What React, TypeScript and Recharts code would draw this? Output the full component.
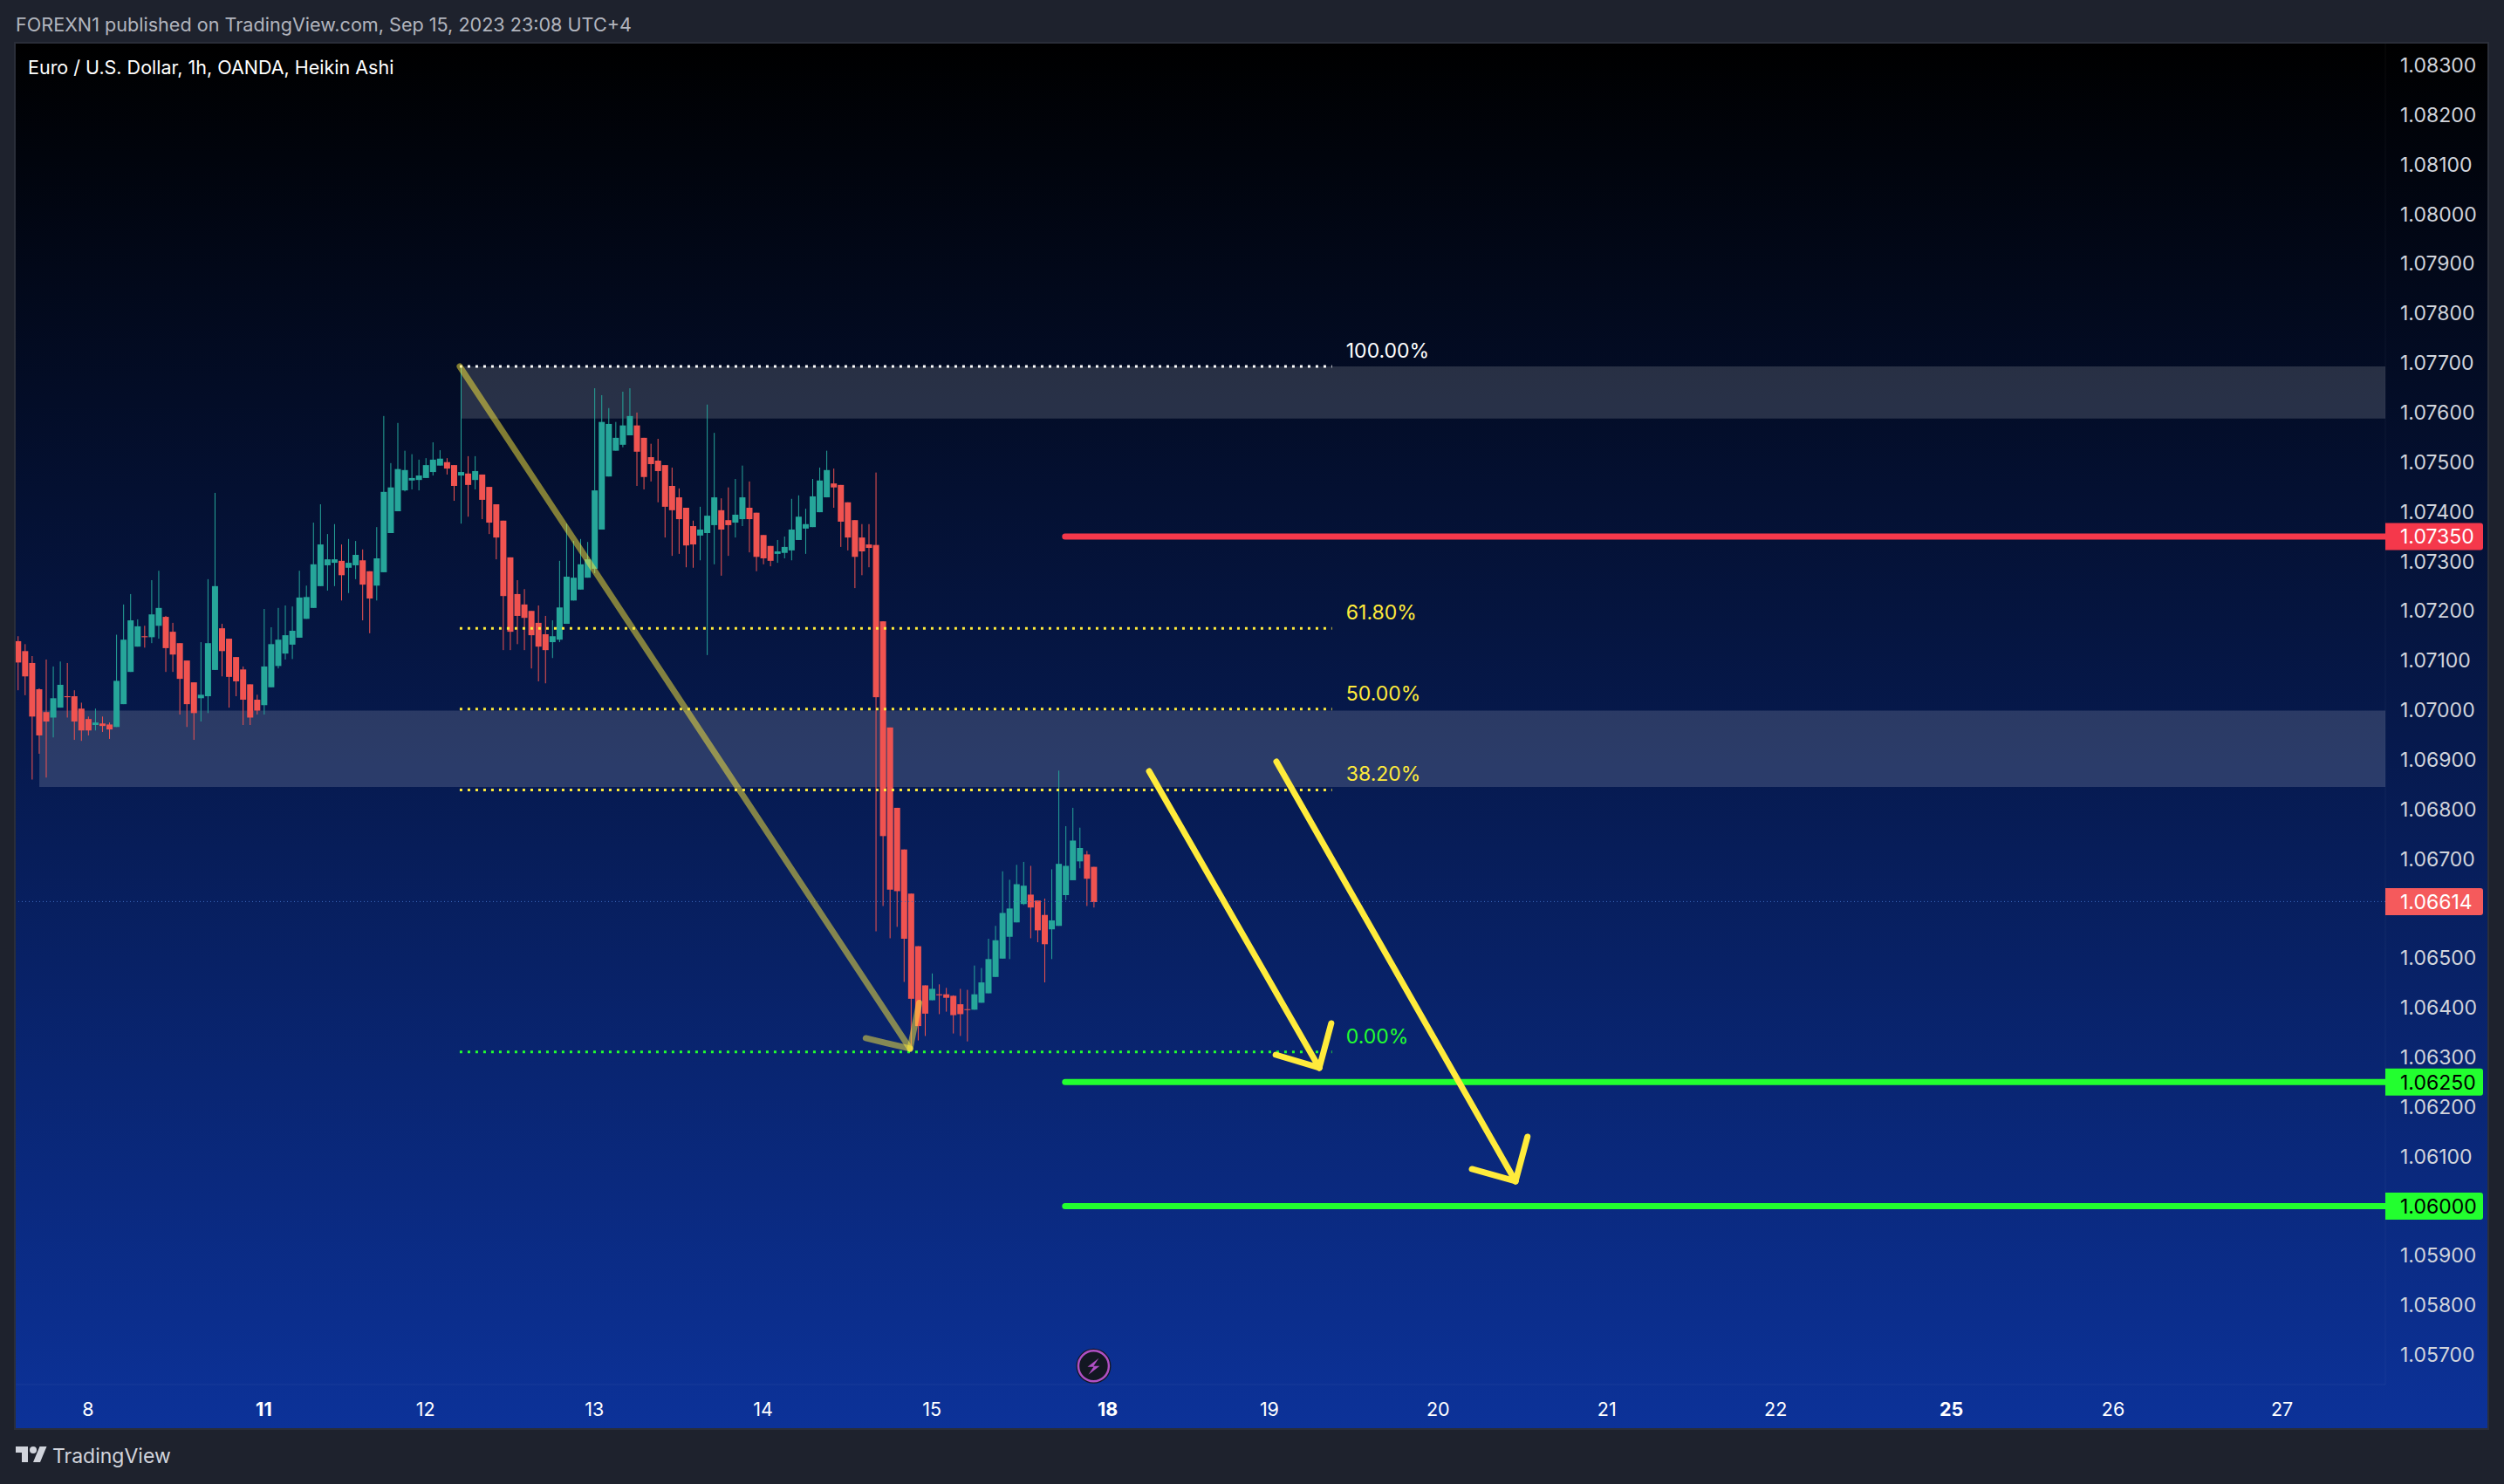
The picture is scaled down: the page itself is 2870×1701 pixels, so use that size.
import { Bar, ComposedChart, ReferenceArea, ReferenceDot, ReferenceLine, XAxis, YAxis } from "recharts";

const UI_FONT = "Inter, 'Noto Sans', sans-serif";
const GREEN = "#26a69a";
const RED = "#f05350";

// heikin ashi candles, 1h bars
const opens = [
  1.07139, 1.07119, 1.07095, 1.07042, 1.06996, 1.06985, 1.07005, 1.07028, 1.07028, 1.07003,
  1.06982, 1.0697, 1.06973, 1.06971, 1.06966, 1.07012, 1.07077, 1.07128, 1.07149, 1.07147,
  1.0717, 1.07188, 1.07158, 1.07135, 1.071, 1.07056, 1.07024, 1.07028, 1.07081, 1.07165,
  1.07144, 1.07107, 1.07082, 1.07052, 1.07021, 1.0701, 1.07046, 1.07089, 1.07114, 1.07132,
  1.07146, 1.07184, 1.07206, 1.0725, 1.07292, 1.07297, 1.07301, 1.07287, 1.07292, 1.07302,
  1.0728, 1.07251, 1.07278, 1.07357, 1.07401, 1.07443, 1.07463, 1.07464, 1.07468, 1.0748,
  1.07493, 1.075, 1.07494, 1.07473, 1.07477, 1.07464, 1.07475, 1.0745, 1.07415, 1.07382,
  1.07308, 1.07234, 1.07213, 1.072, 1.07176, 1.07153, 1.07137, 1.07142, 1.07174, 1.07221,
  1.07243, 1.07267, 1.07285, 1.07364, 1.07471, 1.07523, 1.07535, 1.07554, 1.07574, 1.07549,
  1.0751, 1.07503, 1.07494, 1.07452, 1.07429, 1.07408, 1.07371, 1.07352, 1.07357, 1.07373,
  1.07403, 1.07383, 1.07378, 1.07385, 1.07408, 1.07398, 1.07353, 1.07331, 1.07315, 1.07317,
  1.07322, 1.07343, 1.07366, 1.07369, 1.07399, 1.07429, 1.07457, 1.07454, 1.07419, 1.07383,
  1.07348, 1.07334, 1.07333, 1.07179, 1.06965, 1.06803, 1.06719, 1.0663, 1.06524, 1.06445,
  1.06415, 1.06427, 1.06427, 1.06424, 1.06407, 1.06397, 1.06396, 1.0641, 1.06429, 1.06462,
  1.06499, 1.06543, 1.06572, 1.06609, 1.06628, 1.06616, 1.06587, 1.06558, 1.06565, 1.06627,
  1.06657, 1.06695, 1.06709, 1.06684,
];
const highs = [
  1.07149, 1.07133, 1.07109, 1.07044, 1.07102, 1.07088, 1.07098, 1.07095, 1.0704, 1.07015,
  1.06987, 1.07003, 1.06987, 1.06975, 1.07152, 1.07213, 1.07234, 1.07183, 1.0717, 1.07262,
  1.07281, 1.0719, 1.07176, 1.07135, 1.071, 1.07056, 1.07137, 1.07264, 1.07438, 1.07174,
  1.07144, 1.07107, 1.07088, 1.07052, 1.07031, 1.07204, 1.07167, 1.07206, 1.07211, 1.07209,
  1.07281, 1.07251, 1.07378, 1.07415, 1.07355, 1.07375, 1.07334, 1.07345, 1.07341, 1.07324,
  1.0728, 1.07369, 1.07593, 1.07498, 1.07579, 1.07523, 1.07516, 1.07505, 1.07508, 1.0754,
  1.07524, 1.07508, 1.07494, 1.07693, 1.07512, 1.07512, 1.07475, 1.0745, 1.07415, 1.07382,
  1.07308, 1.07262, 1.07244, 1.072, 1.07211, 1.0719, 1.07181, 1.07301, 1.07376, 1.07341,
  1.07345, 1.07339, 1.07649, 1.07635, 1.07609, 1.07581, 1.07642, 1.07649, 1.076, 1.07549,
  1.07537, 1.07547, 1.07494, 1.07489, 1.07447, 1.07408, 1.07382, 1.0741, 1.07616, 1.07559,
  1.07427, 1.07449, 1.07466, 1.07493, 1.07461, 1.07398, 1.07353, 1.07331, 1.07343, 1.0735,
  1.07426, 1.07433, 1.07406, 1.07466, 1.07489, 1.07523, 1.07487, 1.07454, 1.07419, 1.07383,
  1.07375, 1.07375, 1.07479, 1.07179, 1.06965, 1.06803, 1.06719, 1.0663, 1.06524, 1.06445,
  1.06469, 1.06447, 1.0644, 1.06425, 1.06438, 1.06436, 1.06485, 1.0648, 1.06539, 1.06565,
  1.06675, 1.06658, 1.06688, 1.06694, 1.06686, 1.06616, 1.0662, 1.06679, 1.06878, 1.06766,
  1.06803, 1.06763, 1.06716, 1.06684,
];
const lows = [
  1.0704, 1.0703, 1.0686, 1.06912, 1.06864, 1.06945, 1.07005, 1.06985, 1.0694, 1.06938,
  1.06949, 1.06959, 1.06956, 1.06942, 1.06966, 1.07012, 1.07077, 1.07128, 1.07126, 1.07135,
  1.07144, 1.07077, 1.07077, 1.06991, 1.06966, 1.0694, 1.06977, 1.06994, 1.07081, 1.07068,
  1.07005, 1.07028, 1.0697, 1.0697, 1.06991, 1.06991, 1.07046, 1.07084, 1.07102, 1.07103,
  1.07146, 1.07184, 1.07206, 1.0725, 1.07241, 1.0725, 1.07221, 1.07236, 1.07264, 1.07181,
  1.07155, 1.07221, 1.07278, 1.07357, 1.07401, 1.07441, 1.07445, 1.07443, 1.07468, 1.07473,
  1.07493, 1.07475, 1.07422, 1.07376, 1.0739, 1.07445, 1.07385, 1.07355, 1.07304, 1.07121,
  1.07121, 1.07133, 1.07121, 1.07084, 1.07058, 1.07054, 1.07105, 1.07137, 1.07174, 1.07221,
  1.07243, 1.07267, 1.07276, 1.07364, 1.07471, 1.07523, 1.0753, 1.07554, 1.07452, 1.07445,
  1.07461, 1.07419, 1.07348, 1.07311, 1.07315, 1.07288, 1.07287, 1.07302, 1.07111, 1.07294,
  1.07271, 1.07311, 1.07348, 1.07371, 1.07318, 1.0728, 1.07294, 1.0729, 1.07297, 1.07306,
  1.07302, 1.07343, 1.07315, 1.07369, 1.07399, 1.07429, 1.07408, 1.07329, 1.07322, 1.07246,
  1.07272, 1.07288, 1.06554, 1.06605, 1.0654, 1.06563, 1.06452, 1.06315, 1.06334, 1.06343,
  1.06415, 1.06387, 1.06392, 1.06348, 1.06343, 1.06332, 1.06396, 1.0641, 1.06429, 1.06462,
  1.06499, 1.06498, 1.06572, 1.06607, 1.0654, 1.06532, 1.06451, 1.06498, 1.06565, 1.06617,
  1.06657, 1.06681, 1.06605, 1.06602,
];
const closes = [
  1.07096, 1.07068, 1.06987, 1.06949, 1.06977, 1.07024, 1.07051, 1.07026, 1.06977, 1.06959,
  1.06959, 1.06975, 1.06968, 1.06961, 1.07059, 1.07142, 1.07181, 1.07169, 1.07147, 1.07193,
  1.07206, 1.07125, 1.07112, 1.07063, 1.07012, 1.06994, 1.07031, 1.07135, 1.0725, 1.07119,
  1.07067, 1.07058, 1.07021, 1.06985, 1.06999, 1.07088, 1.07133, 1.07142, 1.07151, 1.0716,
  1.07227, 1.07228, 1.07294, 1.07334, 1.07304, 1.07304, 1.07272, 1.07297, 1.07313, 1.07253,
  1.07225, 1.07306, 1.0744, 1.07449, 1.07486, 1.07484, 1.07468, 1.07473, 1.07494, 1.07505,
  1.07507, 1.07487, 1.07452, 1.0748, 1.07454, 1.07482, 1.07424, 1.07378, 1.07348, 1.0723,
  1.07158, 1.0719, 1.07186, 1.07151, 1.07128, 1.07121, 1.07149, 1.07207, 1.07269, 1.07267,
  1.07294, 1.07304, 1.07443, 1.07581, 1.07577, 1.07549, 1.07574, 1.07593, 1.07521, 1.0747,
  1.07496, 1.07482, 1.0741, 1.07403, 1.07385, 1.07332, 1.07334, 1.07364, 1.07392, 1.07429,
  1.07364, 1.07373, 1.07394, 1.07429, 1.07385, 1.07309, 1.07306, 1.07301, 1.0732, 1.07329,
  1.07364, 1.0739, 1.07375, 1.07431, 1.07463, 1.07484, 1.07449, 1.0738, 1.07348, 1.07309,
  1.0732, 1.07327, 1.07026, 1.06746, 1.06638, 1.06635, 1.06539, 1.06418, 1.06363, 1.06388,
  1.06438, 1.06425, 1.0642, 1.06385, 1.06387, 1.06396, 1.06427, 1.06451, 1.06498, 1.06536,
  1.06591, 1.066, 1.06649, 1.06646, 1.06602, 1.06556, 1.06528, 1.06576, 1.0669, 1.06686,
  1.06737, 1.06722, 1.0666, 1.06613,
];

const priceTicks = [
  1.057, 1.058, 1.059, 1.061, 1.062, 1.063, 1.064, 1.065, 1.067, 1.068, 1.069, 1.07, 1.071, 1.072,
  1.073, 1.074, 1.075, 1.076, 1.077, 1.078, 1.079, 1.08, 1.081, 1.082, 1.083,
];
const dayTicks = [10, 35, 58, 82, 106, 130, 155, 178, 202, 226, 250, 275, 298, 322];
const dayLabels = ["8", "11", "12", "13", "14", "15", "18", "19", "20", "21", "22", "25", "26", "27"];
const weekStarts = ["11", "18", "25"];

const fibLevels = [
  { label: "100.00%", price: 1.07693, color: "#ffffff" },
  { label: "61.80%", price: 1.07165, color: "#ffeb3b" },
  { label: "50.00%", price: 1.07002, color: "#ffeb3b" },
  { label: "38.20%", price: 1.06839, color: "#ffeb3b" },
  { label: "0.00%", price: 1.06311, color: "#22ff2f" },
];
const fibStart = 62.86;
const fibEnd = 186.9;
const fibLabelAt = 188.9;

const zones = [
  { x1: 63, y1: 1.07693, y2: 1.07588 },
  { x1: 3.07, y1: 1.06999, y2: 1.06845 },
];

const targets = [
  { price: 1.0735, text: "1.07350", line: "#f5384b", badge: "#f5384b", ink: "#ffffff" },
  { price: 1.0625, text: "1.06250", line: "#22ff2f", badge: "#22ff2f", ink: "#000000" },
  { price: 1.06, text: "1.06000", line: "#22ff2f", badge: "#22ff2f", ink: "#000000" },
];
const targetStart = 148.95;

const lastPrice = 1.06614;

// each arrow: shaft start, tip, and the two barb ends
const arrows = [
  { color: "#ffeb3b", opacity: 0.5, start: [62.86, 1.07693], tip: [126.9, 1.063175], barbA: [120.6, 1.063386], barbB: [128.2, 1.064098] },
  { color: "#ffeb3b", opacity: 1, start: [160.9, 1.068768], tip: [185.1, 1.062788], barbA: [178.9, 1.063051], barbB: [186.8, 1.063685] },
  { color: "#ffeb3b", opacity: 1, start: [179.0, 1.068962], tip: [213.0, 1.060501], barbA: [206.8, 1.060747], barbB: [214.7, 1.061398] },
];

const X_MIN = -0.285;
const X_MAX = 336.7;
const Y_MIN = 1.056402;
const Y_MAX = 1.083438;

const rows = opens.map((open, i) => ({
  i,
  open,
  close: closes[i],
  high: highs[i],
  low: lows[i],
  range: [lows[i], highs[i]],
}));

function Candle(props: any) {
  const { x, y, width, height, payload } = props;
  const top = Math.min(y, y + height);
  const span = Math.abs(height);
  const perUnit = span / (payload.high - payload.low);
  const toY = (v: number) => top + (payload.high - v) * perUnit;
  const color = payload.close >= payload.open ? GREEN : RED;
  const bodyTop = toY(Math.max(payload.open, payload.close));
  const bodyBottom = toY(Math.min(payload.open, payload.close));
  const mid = x + width / 2;
  return (
    <g>
      <line x1={mid} x2={mid} y1={top} y2={top + span} stroke={color} strokeWidth={1} />
      <rect x={x} y={bodyTop} width={width} height={Math.max(bodyBottom - bodyTop, 1)} fill={color} />
    </g>
  );
}

function DayTick({ x, y, payload }: any) {
  const label = dayLabels[dayTicks.indexOf(payload.value)];
  const bold = weekStarts.includes(label);
  return (
    <text x={x} y={y} dy={28} textAnchor="middle" fontFamily={UI_FONT} fontSize={21.5} fontWeight={bold ? 700 : 400} fill="#ffffff">
      {label}
    </text>
  );
}

function PriceBadge({ cy, text, fill, ink, axisX }: any) {
  return (
    <g>
      <path
        d={`M${axisX} ${cy - 15.5} h109 a3 3 0 0 1 3 3 v25 a3 3 0 0 1 -3 3 h-109 z`}
        fill={fill}
      />
      <text x={axisX + 17} y={cy} dy={8.5} fontFamily={UI_FONT} fontSize={23} fill={ink}>
        {text}
      </text>
    </g>
  );
}

function BoltIcon({ cx, cy }: any) {
  return (
    <g>
      <circle cx={cx} cy={cy} r={20} fill="#131722" />
      <circle cx={cx} cy={cy} r={17.5} fill="#131722" stroke="#b04fc4" strokeWidth={2.5} />
      <path
        d={`M${cx + 6} ${cy - 9} L${cx - 7} ${cy + 1} L${cx} ${cy + 1} L${cx - 6} ${cy + 10} L${cx + 7} ${cy} L${cx} ${cy} Z`}
        fill="#b04fc4"
      />
    </g>
  );
}

function seg(a: number[], b: number[]) {
  return [
    { x: a[0], y: a[1] },
    { x: b[0], y: b[1] },
  ] as any;
}

export default function App() {
  return (
    <div style={{ position: "absolute", left: 0, top: 0, width: 2870, height: 1701, background: "#1e222d", overflow: "hidden" }}>
      <div style={{ position: "absolute", left: 18, top: 15, fontFamily: UI_FONT, fontSize: 21.6, color: "#b2b5be", whiteSpace: "nowrap" }}>
        FOREXN1 published on TradingView.com, Sep 15, 2023 23:08 UTC+4
      </div>
      <div
        style={{
          position: "absolute",
          left: 18,
          top: 50,
          width: 2833,
          height: 1587,
          background: "linear-gradient(180deg, #000000 0%, #0c3299 100%)",
          boxShadow: "0 0 0 2px #2a2e39",
        }}
      />
      <div style={{ position: "absolute", left: 32, top: 64, fontFamily: UI_FONT, fontSize: 21.5, color: "#ffffff", whiteSpace: "nowrap" }}>
        Euro / U.S. Dollar, 1h, OANDA, Heikin Ashi
      </div>
      <div style={{ position: "absolute", left: 0, top: 0 }}>
        <ComposedChart width={2870} height={1701} data={rows} margin={{ top: 50, right: 19, bottom: 64, left: 18 }}>
          <XAxis
            type="number"
            dataKey="i"
            domain={[X_MIN, X_MAX]}
            allowDataOverflow
            ticks={dayTicks}
            interval={0}
            height={50}
            tick={<DayTick />}
            tickLine={false}
            axisLine={{ stroke: "#ffffff", strokeOpacity: 0.06 }}
          />
          <YAxis
            orientation="right"
            type="number"
            domain={[Y_MIN, Y_MAX]}
            allowDataOverflow
            ticks={priceTicks}
            interval={0}
            width={117}
            tickFormatter={(v: number) => v.toFixed(5)}
            tick={{ fill: "#d1d4dc", fontSize: 23, fontFamily: UI_FONT }}
            tickLine={false}
            tickMargin={11}
            axisLine={{ stroke: "#ffffff", strokeOpacity: 0.05 }}
          />
          <ReferenceLine y={lastPrice} stroke="#3f6cc0" strokeWidth={1} strokeDasharray="1 3" />
          <Bar dataKey="range" barSize={7} shape={<Candle />} isAnimationActive={false} />
          {zones.map((z) => (
            <ReferenceArea key={z.x1} x1={z.x1} x2={X_MAX} y1={z.y1} y2={z.y2} fill="#ffffff" fillOpacity={0.15} strokeOpacity={0} />
          ))}
          {fibLevels.map((f) => (
            <ReferenceLine
              key={f.label}
              segment={seg([fibStart, f.price], [fibEnd, f.price])}
              stroke={f.color}
              strokeWidth={3}
              strokeDasharray="3 6"
            />
          ))}
          {fibLevels.map((f) => (
            <ReferenceDot
              key={`lbl-${f.label}`}
              x={fibLabelAt}
              y={f.price}
              r={0}
              ifOverflow="visible"
              shape={({ cx, cy }: any) => (
                <text x={cx} y={cy} dy={-10} fontFamily={UI_FONT} fontSize={23} fill={f.color}>
                  {f.label}
                </text>
              )}
            />
          ))}
          {targets.map((t) => (
            <ReferenceLine
              key={t.text}
              segment={seg([targetStart, t.price], [X_MAX, t.price])}
              stroke={t.line}
              strokeWidth={7}
              strokeLinecap="round"
            />
          ))}
          {arrows.map((a, n) =>
            [
              seg(a.start, a.tip),
              seg(a.barbA, a.tip),
              seg(a.barbB, a.tip),
            ].map((s, k) => (
              <ReferenceLine
                key={`${n}-${k}`}
                segment={s}
                stroke={a.color}
                strokeOpacity={a.opacity}
                strokeWidth={7}
                strokeLinecap="round"
              />
            ))
          )}
          <ReferenceDot
            x={153}
            y={1.056775}
            r={0}
            ifOverflow="visible"
            shape={(p: any) => <BoltIcon cx={p.cx} cy={p.cy} />}
          />
          {targets.map((t) => (
            <ReferenceDot
              key={`badge-${t.text}`}
              x={X_MAX}
              y={t.price}
              r={0}
              ifOverflow="visible"
              shape={(p: any) => <PriceBadge cy={p.cy} axisX={p.cx} text={t.text} fill={t.badge} ink={t.ink} />}
            />
          ))}
          <ReferenceDot
            x={X_MAX}
            y={lastPrice}
            r={0}
            ifOverflow="visible"
            shape={(p: any) => <PriceBadge cy={p.cy} axisX={p.cx} text={lastPrice.toFixed(5)} fill="#f55a5c" ink="#ffffff" />}
          />
        </ComposedChart>
      </div>
      <div style={{ position: "absolute", left: 18, top: 1655, display: "flex", alignItems: "center", gap: 6 }}>
        <svg width="36" height="22" viewBox="0 0 36 22">
          <path d="M14 18H7V7H0V0h14v18zM28 18h-8l7.5-18h8L28 18z" fill="#d1d4dc" />
          <circle cx="20" cy="4" r="4" fill="#d1d4dc" />
        </svg>
        <span style={{ fontFamily: UI_FONT, fontSize: 23, color: "#d1d4dc" }}>TradingView</span>
      </div>
    </div>
  );
}
